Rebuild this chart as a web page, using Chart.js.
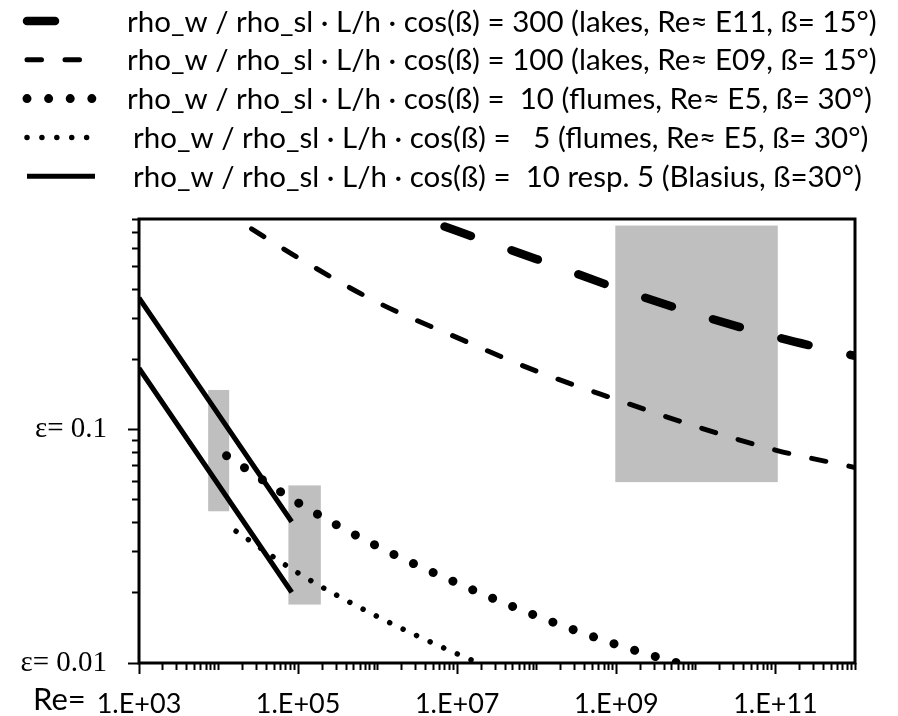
<!DOCTYPE html>
<html>
<head>
<meta charset="utf-8">
<script src="https://cdn.jsdelivr.net/npm/chart.js@4.4.1/dist/chart.umd.min.js"></script>
<style>
  body { margin: 0; background: #fff; }
</style>
</head>
<body>
<canvas id="myChart" width="898" height="716"></canvas>
<script>
// values: Reynolds number vs epsilon
var re300  = [1e6, 1e7, 1e8, 1e9, 1e10, 1e11, 1e12];
var eps300 = [0.94, 0.71, 0.538, 0.405, 0.313, 0.250, 0.207];

var re100  = [2.6e4, 1e5, 1e6, 1e7, 1e8, 1e9, 1e10, 1e11, 1e12];
var eps100 = [0.726, 0.546, 0.351, 0.248, 0.178, 0.1346, 0.1033, 0.0818, 0.0689];

var re10   = [1.26e4, 1e5, 1e6, 1e7, 1e8, 1e9, 1e10, 1e11];
var eps10  = [0.0774, 0.0486, 0.0316, 0.0220, 0.0159, 0.0120, 0.0095, 0.0076];

var re5    = [1.66e4, 1e5, 1e6, 1e7, 1e8];
var eps5   = [0.0367, 0.0243, 0.0158, 0.01094, 0.0079];

var reBlasius    = [1e3, 8.3e4];
var epsBlasius10 = [0.367, 0.0403];
var epsBlasius5  = [0.1835, 0.0201];

// grey ranges (Re from..to, epsilon from..to)
var boxReMin  = [7.4e3, 7.55e4, 9.7e8];
var boxReMax  = [1.36e4, 1.93e5, 1.07e11];
var boxEpsMin = [0.0447, 0.0178, 0.0596];
var boxEpsMax = [0.148, 0.0577, 0.75];

var legendTexts = [
  "rho_w / rho_sl \u00b7 L/h \u00b7 cos(\u00df) = 300 (lakes, Re\u2248 E11, \u00df= 15\u00b0)",
  "rho_w / rho_sl \u00b7 L/h \u00b7 cos(\u00df) = 100 (lakes, Re\u2248 E09, \u00df= 15\u00b0)",
  "rho_w / rho_sl \u00b7 L/h \u00b7 cos(\u00df) =  10 (flumes, Re\u2248 E5, \u00df= 30\u00b0)",
  "rho_w / rho_sl \u00b7 L/h \u00b7 cos(\u00df) =   5 (flumes, Re\u2248 E5, \u00df= 30\u00b0)",
  "rho_w / rho_sl \u00b7 L/h \u00b7 cos(\u00df) =  10 resp. 5 (Blasius, \u00df=30\u00b0)"
];

var xLabelValues = [1e3, 1e5, 1e7, 1e9, 1e11];
var xLabelTexts  = ["1.E+03", "1.E+05", "1.E+07", "1.E+09", "1.E+11"];
var yLabelValues = [0.01, 0.1];
var yLabelTexts  = ["\u03b5= 0.01", "\u03b5= 0.1"];

function toXY(xs, ys) {
  var out = [];
  for (var i = 0; i < xs.length; i++) out.push({x: xs[i], y: ys[i]});
  return out;
}

// 1..9 x 10^e ticks between lo and hi
function logTicks(lo, hi) {
  var t = [];
  for (var e = Math.floor(Math.log10(lo)); e <= Math.ceil(Math.log10(hi)); e++) {
    for (var k = 1; k <= 9; k++) {
      var v = Number((k * Math.pow(10, e)).toPrecision(6));
      if (v >= lo * 0.9999 && v <= hi * 1.0001) t.push({value: v});
    }
  }
  return t;
}

function findLabel(value, values, texts) {
  for (var i = 0; i < values.length; i++) {
    if (Math.abs(value / values[i] - 1) < 1e-6) return texts[i];
  }
  return "";
}

var boxesPlugin = {
  id: "boxes",
  beforeDatasetsDraw: function(chart) {
    var ctx = chart.ctx, xs = chart.scales.x, ys = chart.scales.y;
    ctx.save();
    ctx.fillStyle = "#bfbfbf";
    for (var i = 0; i < boxReMin.length; i++) {
      var x1 = xs.getPixelForValue(boxReMin[i]);
      var x2 = xs.getPixelForValue(boxReMax[i]);
      var y1 = ys.getPixelForValue(boxEpsMax[i]);
      var y2 = ys.getPixelForValue(boxEpsMin[i]);
      ctx.fillRect(x1, y1, x2 - x1, y2 - y1);
    }
    ctx.restore();
  }
};

var framePlugin = {
  id: "frame",
  afterDatasetsDraw: function(chart) {
    var a = chart.chartArea, ctx = chart.ctx;
    ctx.save();
    ctx.strokeStyle = "#000";
    ctx.lineWidth = 3;
    ctx.strokeRect(a.left, a.top, a.right - a.left, a.bottom - a.top);
    ctx.restore();
  }
};

// legend rows on top, drawn with each dataset's own line style
var legendPlugin = {
  id: "rowsLegend",
  afterDraw: function(chart) {
    var ctx = chart.ctx;
    var textX = [127, 127, 127, 133, 133];
    ctx.save();
    chart.data.datasets.forEach(function(ds, i) {
      if (i > 4) return;
      var y = 21 + i * 38.8;
      ctx.beginPath();
      ctx.lineWidth = ds.borderWidth;
      ctx.strokeStyle = "#000";
      ctx.lineCap = ds.borderCapStyle || "butt";
      ctx.setLineDash(ds.borderDash || []);
      ctx.lineDashOffset = 0;
      ctx.moveTo(27, y);
      ctx.lineTo(95, y);
      ctx.stroke();
      ctx.setLineDash([]);
      ctx.fillStyle = "#000";
      ctx.font = "29.5px Lato";
      ctx.textBaseline = "middle";
      ctx.textAlign = "left";
      ctx.fillText(legendTexts[i], textX[i], y + 1);
    });
    ctx.font = "31px Lato";
    ctx.textBaseline = "alphabetic";
    ctx.fillText("Re=", 33, 710);
    ctx.restore();
  }
};

var lineBase = {
  borderColor: "#000",
  pointRadius: 0,
  fill: false,
  clip: 0,
  borderJoinStyle: "round",
  cubicInterpolationMode: "monotone"
};

function series(label, xs, ys, width, dash, cap) {
  return Object.assign({}, lineBase, {
    label: label,
    data: toXY(xs, ys),
    borderWidth: width,
    borderDash: dash,
    borderCapStyle: cap
  });
}

var myChart = document.getElementById("myChart").getContext("2d");

var chart = new Chart(myChart, {
  type: "line",
  data: {
    datasets: [
      series(legendTexts[0], re300, eps300, 8.5, [28, 43], "round"),
      series(legendTexts[1], re100, eps100, 5, [14.5, 23.5], "round"),
      series(legendTexts[2], re10, eps10, 9, [0.01, 21.6], "round"),
      series(legendTexts[3], re5, eps5, 5.5, [0.01, 14.9], "round"),
      series(legendTexts[4], reBlasius, epsBlasius10, 5, [], "butt"),
      series("Blasius 5", reBlasius, epsBlasius5, 5, [], "butt")
    ]
  },
  options: {
    responsive: false,
    animation: false,
    devicePixelRatio: 1,
    layout: { padding: { top: 219, right: 43, left: 0, bottom: 0 } },
    plugins: {
      legend: { display: false },
      tooltip: { enabled: false }
    },
    scales: {
      x: {
        type: "logarithmic",
        min: 1e3,
        max: 1e12,
        afterBuildTicks: function(scale) { scale.ticks = logTicks(1e3, 1e12); },
        afterFit: function(scale) { scale.height = 53; },
        border: { display: false },
        grid: {
          drawOnChartArea: false,
          tickLength: 11,
          tickWidth: 2,
          tickColor: "#000",
          tickBorderDash: function(c) {
            return findLabel(c.tick.value, xLabelValues, xLabelTexts) ? [] : [7, 100];
          }
        },
        ticks: {
          autoSkip: false,
          maxRotation: 0,
          padding: 14,
          color: "#000",
          font: { family: "Lato", size: 27 },
          callback: function(value) { return findLabel(value, xLabelValues, xLabelTexts); }
        }
      },
      y: {
        type: "logarithmic",
        min: 0.01,
        max: 0.8,
        afterBuildTicks: function(scale) { scale.ticks = logTicks(0.01, 0.8); },
        afterFit: function(scale) { scale.width = 139; },
        border: { display: false },
        grid: {
          drawOnChartArea: false,
          tickLength: 11,
          tickWidth: 2,
          tickColor: "#000",
          tickBorderDash: function(c) {
            return findLabel(c.tick.value, yLabelValues, yLabelTexts) ? [] : [0, 4, 7, 100];
          }
        },
        ticks: {
          autoSkip: false,
          padding: 21,
          color: "#000",
          font: { family: "Liberation Serif", size: 29 },
          callback: function(value) { return findLabel(value, yLabelValues, yLabelTexts); }
        }
      }
    }
  },
  plugins: [boxesPlugin, framePlugin, legendPlugin]
});
</script>
</body>
</html>
